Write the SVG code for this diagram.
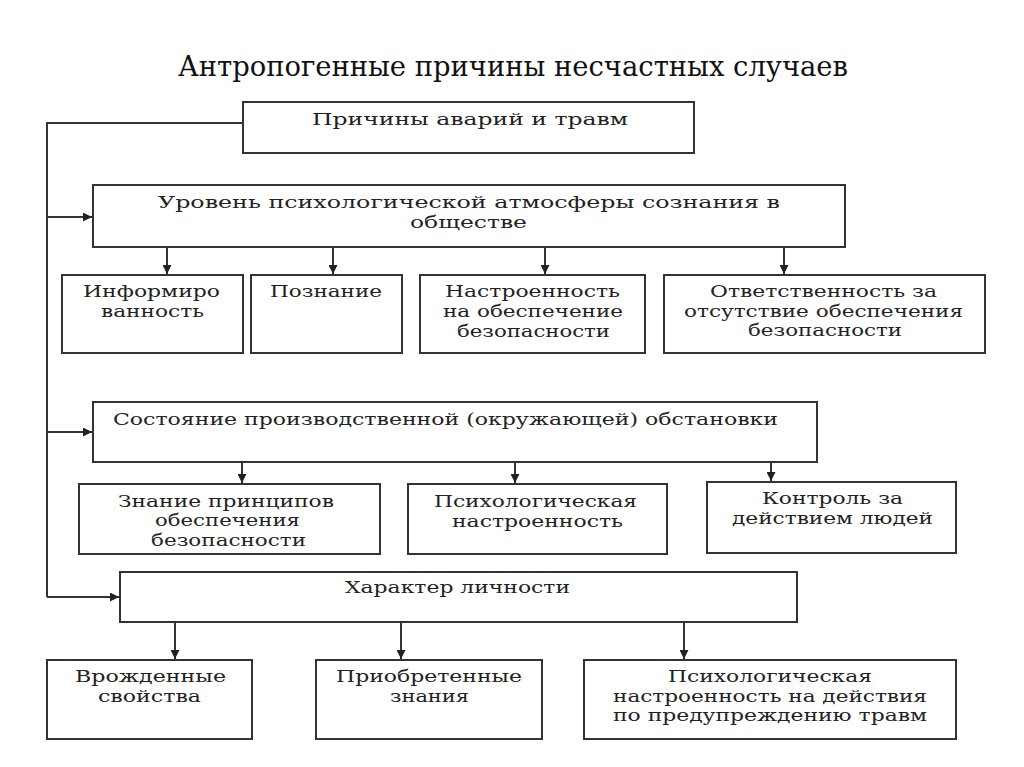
<svg xmlns="http://www.w3.org/2000/svg" width="1024" height="767" viewBox="0 0 1024 767">
<style>
.box{fill:#fff;stroke:#333;stroke-width:2}
.t{font-family:'DejaVu Serif','Liberation Serif',serif;font-size:17px;fill:#222;text-anchor:middle}
.title{font-family:'DejaVu Serif Condensed','DejaVu Serif','Liberation Serif',serif;font-size:28px;fill:#111;text-anchor:middle}
.ln{fill:none;stroke:#333;stroke-width:2}
</style>
<defs>
<marker id="ah" viewBox="0 0 10 10" refX="10" refY="5" markerWidth="9" markerHeight="9" markerUnits="userSpaceOnUse" orient="auto">
<path d="M0,0 L10,5 L0,10 z" fill="#222"/>
</marker>
</defs>
<rect width="1024" height="767" fill="#fff"/>
<text class="title" x="513" y="76" textLength="670" lengthAdjust="spacingAndGlyphs">Антропогенные причины несчастных случаев</text>

<g id="connectors">
<path class="ln" d="M243,123 H47 V597"/>
<path class="ln" d="M47,217 H92" marker-end="url(#ah)"/>
<path class="ln" d="M47,432 H92" marker-end="url(#ah)"/>
<path class="ln" d="M47,597 H119" marker-end="url(#ah)"/>
<path class="ln" d="M167,247 V274" marker-end="url(#ah)"/>
<path class="ln" d="M333,247 V274" marker-end="url(#ah)"/>
<path class="ln" d="M545,247 V274" marker-end="url(#ah)"/>
<path class="ln" d="M784,247 V274" marker-end="url(#ah)"/>
<path class="ln" d="M242,462 V483" marker-end="url(#ah)"/>
<path class="ln" d="M515,462 V483" marker-end="url(#ah)"/>
<path class="ln" d="M771,462 V481" marker-end="url(#ah)"/>
<path class="ln" d="M175,622 V659" marker-end="url(#ah)"/>
<path class="ln" d="M401,622 V659" marker-end="url(#ah)"/>
<path class="ln" d="M684,622 V659" marker-end="url(#ah)"/>
</g>

<g id="n1"><rect class="box" x="243" y="102" width="451" height="51"/>
<text class="t" x="470" y="125" textLength="316" lengthAdjust="spacingAndGlyphs">Причины аварий и травм</text></g>

<g id="n2"><rect class="box" x="93" y="185" width="752" height="62"/>
<text class="t" x="469" y="208" textLength="622" lengthAdjust="spacingAndGlyphs">Уровень психологической атмосферы сознания в</text>
<text class="t" x="468.5" y="228" textLength="117" lengthAdjust="spacingAndGlyphs">обществе</text></g>

<g id="n2a"><rect class="box" x="62" y="275" width="181" height="78"/>
<text class="t" x="151.5" y="297" textLength="137" lengthAdjust="spacingAndGlyphs">Информиро</text>
<text class="t" x="152.5" y="317" textLength="103" lengthAdjust="spacingAndGlyphs">ванность</text></g>

<g id="n2b"><rect class="box" x="251" y="275" width="151" height="78"/>
<text class="t" x="326" y="297" textLength="112" lengthAdjust="spacingAndGlyphs">Познание</text></g>

<g id="n2c"><rect class="box" x="420" y="275" width="225" height="78"/>
<text class="t" x="532.5" y="297" textLength="175" lengthAdjust="spacingAndGlyphs">Настроенность</text>
<text class="t" x="533" y="317" textLength="180" lengthAdjust="spacingAndGlyphs">на обеспечение</text>
<text class="t" x="533.5" y="337" textLength="153" lengthAdjust="spacingAndGlyphs">безопасности</text></g>

<g id="n2d"><rect class="box" x="664" y="275" width="321" height="78"/>
<text class="t" x="823.5" y="297" textLength="227" lengthAdjust="spacingAndGlyphs">Ответственность за</text>
<text class="t" x="823.5" y="317" textLength="279" lengthAdjust="spacingAndGlyphs">отсутствие обеспечения</text>
<text class="t" x="825" y="336" textLength="154" lengthAdjust="spacingAndGlyphs">безопасности</text></g>

<g id="n3"><rect class="box" x="93" y="402" width="724" height="60"/>
<text class="t" x="445.5" y="425" textLength="665" lengthAdjust="spacingAndGlyphs">Состояние производственной (окружающей) обстановки</text></g>

<g id="n3a"><rect class="box" x="79" y="484" width="301" height="70"/>
<text class="t" x="226" y="507" textLength="216" lengthAdjust="spacingAndGlyphs">Знание принципов</text>
<text class="t" x="227.5" y="526" textLength="145" lengthAdjust="spacingAndGlyphs">обеспечения</text>
<text class="t" x="228.5" y="546" textLength="155" lengthAdjust="spacingAndGlyphs">безопасности</text></g>

<g id="n3b"><rect class="box" x="408" y="484" width="259" height="70"/>
<text class="t" x="535.5" y="507" textLength="203" lengthAdjust="spacingAndGlyphs">Психологическая</text>
<text class="t" x="537.5" y="527" textLength="171" lengthAdjust="spacingAndGlyphs">настроенность</text></g>

<g id="n3c"><rect class="box" x="707" y="482" width="249" height="71"/>
<text class="t" x="832.5" y="504" textLength="141" lengthAdjust="spacingAndGlyphs">Контроль за</text>
<text class="t" x="832.5" y="524" textLength="201" lengthAdjust="spacingAndGlyphs">действием людей</text></g>

<g id="n4"><rect class="box" x="120" y="572" width="677" height="50"/>
<text class="t" x="457.5" y="593" textLength="225" lengthAdjust="spacingAndGlyphs">Характер личности</text></g>

<g id="n4a"><rect class="box" x="47" y="660" width="205" height="79"/>
<text class="t" x="150.5" y="682" textLength="151" lengthAdjust="spacingAndGlyphs">Врожденные</text>
<text class="t" x="149.5" y="702" textLength="103" lengthAdjust="spacingAndGlyphs">свойства</text></g>

<g id="n4b"><rect class="box" x="316" y="660" width="226" height="79"/>
<text class="t" x="429" y="682" textLength="186" lengthAdjust="spacingAndGlyphs">Приобретенные</text>
<text class="t" x="429.5" y="702" textLength="79" lengthAdjust="spacingAndGlyphs">знания</text></g>

<g id="n4c"><rect class="box" x="584" y="660" width="372" height="79"/>
<text class="t" x="770" y="682" textLength="204" lengthAdjust="spacingAndGlyphs">Психологическая</text>
<text class="t" x="770" y="702" textLength="314" lengthAdjust="spacingAndGlyphs">настроенность на действия</text>
<text class="t" x="770" y="721" textLength="314" lengthAdjust="spacingAndGlyphs">по предупреждению травм</text></g>
</svg>
